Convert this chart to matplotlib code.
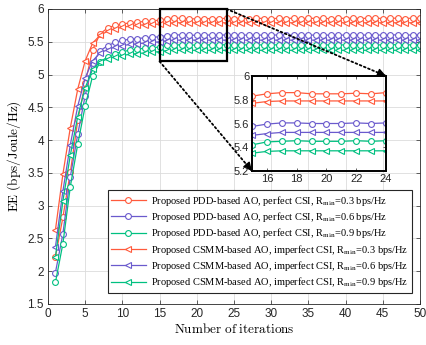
import matplotlib
matplotlib.use("Agg")
import matplotlib.pyplot as plt
from matplotlib.font_manager import FontProperties
from matplotlib.patches import Rectangle, ConnectionPatch
import numpy as np

iters = list(range(1, 51))

pdd_03 = [2.22, 2.82, 3.51, 4.30, 4.87, 5.38, 5.62, 5.71, 5.75, 5.77,
          5.79, 5.80, 5.81, 5.82, 5.83, 5.85, 5.86, 5.86, 5.85, 5.85,
          5.85, 5.855, 5.85, 5.86, 5.855, 5.86, 5.85, 5.86, 5.855, 5.85,
          5.86, 5.855, 5.86, 5.85, 5.86, 5.855, 5.86, 5.85, 5.86, 5.855,
          5.86, 5.855, 5.86, 5.86, 5.855, 5.86, 5.86, 5.855, 5.86, 5.86]
pdd_06 = [1.98, 2.57, 3.44, 4.09, 4.68, 5.17, 5.36, 5.44, 5.49, 5.52,
          5.54, 5.55, 5.56, 5.57, 5.575, 5.595, 5.605, 5.605, 5.60, 5.60,
          5.60, 5.605, 5.60, 5.605, 5.60, 5.605, 5.60, 5.605, 5.60, 5.60,
          5.605, 5.60, 5.605, 5.60, 5.605, 5.60, 5.605, 5.60, 5.605, 5.60,
          5.605, 5.60, 5.605, 5.605, 5.60, 5.605, 5.605, 5.60, 5.605, 5.605]
pdd_09 = [1.83, 2.42, 3.29, 3.94, 4.52, 4.98, 5.19, 5.27, 5.32, 5.35,
          5.37, 5.39, 5.40, 5.41, 5.42, 5.445, 5.45, 5.455, 5.45, 5.45,
          5.45, 5.455, 5.45, 5.455, 5.45, 5.455, 5.45, 5.455, 5.45, 5.45,
          5.455, 5.45, 5.455, 5.45, 5.455, 5.45, 5.455, 5.45, 5.455, 5.45,
          5.455, 5.45, 5.455, 5.455, 5.45, 5.455, 5.455, 5.45, 5.455, 5.455]
csmm_03 = [2.63, 3.48, 4.19, 4.78, 5.21, 5.48, 5.60, 5.66, 5.70, 5.72,
           5.74, 5.75, 5.76, 5.765, 5.77, 5.785, 5.79, 5.79, 5.79, 5.79,
           5.79, 5.79, 5.79, 5.79, 5.79, 5.79, 5.79, 5.79, 5.79, 5.79,
           5.79, 5.79, 5.79, 5.79, 5.79, 5.79, 5.79, 5.79, 5.79, 5.79,
           5.79, 5.79, 5.79, 5.79, 5.79, 5.79, 5.79, 5.79, 5.79, 5.79]
csmm_06 = [2.37, 3.22, 3.93, 4.52, 4.95, 5.21, 5.33, 5.38, 5.42, 5.44,
           5.46, 5.47, 5.48, 5.49, 5.50, 5.515, 5.525, 5.525, 5.525, 5.525,
           5.525, 5.525, 5.525, 5.525, 5.525, 5.525, 5.525, 5.525, 5.525, 5.525,
           5.525, 5.525, 5.525, 5.525, 5.525, 5.525, 5.525, 5.525, 5.525, 5.525,
           5.525, 5.525, 5.525, 5.525, 5.525, 5.525, 5.525, 5.525, 5.525, 5.525]
csmm_09 = [2.22, 3.07, 3.77, 4.36, 4.80, 5.08, 5.19, 5.24, 5.27, 5.29,
           5.31, 5.32, 5.33, 5.34, 5.35, 5.365, 5.37, 5.37, 5.37, 5.37,
           5.37, 5.37, 5.37, 5.37, 5.37, 5.37, 5.37, 5.37, 5.37, 5.37,
           5.37, 5.37, 5.37, 5.37, 5.37, 5.37, 5.37, 5.37, 5.37, 5.37,
           5.37, 5.37, 5.37, 5.37, 5.37, 5.37, 5.37, 5.37, 5.37, 5.37]

labels = [
    r"Proposed PDD-based AO, perfect CSI, R$_{\mathrm{min}}$=0.3 bps/Hz",
    r"Proposed PDD-based AO, perfect CSI, R$_{\mathrm{min}}$=0.6 bps/Hz",
    r"Proposed PDD-based AO, perfect CSI, R$_{\mathrm{min}}$=0.9 bps/Hz",
    r"Proposed CSMM-based AO, imperfect CSI, R$_{\mathrm{min}}$=0.3 bps/Hz",
    r"Proposed CSMM-based AO, imperfect CSI, R$_{\mathrm{min}}$=0.6 bps/Hz",
    r"Proposed CSMM-based AO, imperfect CSI, R$_{\mathrm{min}}$=0.9 bps/Hz",
]
series = [pdd_03, pdd_06, pdd_09, csmm_03, csmm_06, csmm_09]
colors = ["#FF5A3C", "#6A5ACD", "#00C080", "#FF5A3C", "#6A5ACD", "#00C080"]
markers = ["o", "o", "o", "<", "<", "<"]

xticks = [0, 5, 10, 15, 20, 25, 30, 35, 40, 45, 50]
yticks = [1.5, 2, 2.5, 3, 3.5, 4, 4.5, 5, 5.5, 6]
ytick_labels = ["1.5", "2", "2.5", "3", "3.5", "4", "4.5", "5", "5.5", "6"]
in_xticks = [16, 18, 20, 22, 24]
in_yticks = [5.2, 5.4, 5.6, 5.8, 6]
in_ytick_labels = ["5.2", "5.4", "5.6", "5.8", "6"]

plt.rcParams["font.family"] = ["Liberation Sans", "DejaVu Sans"]

fig = plt.figure(figsize=(4.26, 3.45), dpi=100)
ax = fig.add_axes([48/426, 1-304/345, 372/426, 295/345])

for y, c, m, lab in zip(series, colors, markers, labels):
    ax.plot(iters, y, color=c, marker=m, markerfacecolor="white",
            markersize=4.2, markeredgewidth=0.8, lw=0.9, label=lab)

ax.set_xlim(0, 50)
ax.set_ylim(1.5, 6)
ax.set_xticks(xticks)
ax.set_yticks(yticks)
ax.set_yticklabels(ytick_labels)
ax.tick_params(direction="in", top=True, right=True, labelsize=8.5,
               length=3, width=0.5, colors="#262626", pad=3)
ax.grid(True, color="#dcdcdc", lw=0.6)
ax.set_axisbelow(True)
for s in ax.spines.values():
    s.set_linewidth(0.6)
    s.set_color("#262626")

lab_fp = FontProperties(size=9.5, math_fontfamily="cm")
ax.set_xlabel(r"$\mathrm{Number\ of\ iterations}$", fontproperties=lab_fp, labelpad=1)
ax.set_ylabel(r"$\mathrm{EE\ (bps/Joule/Hz)}$", fontproperties=lab_fp, labelpad=3)

leg_fp = FontProperties(family="Liberation Serif", size=7.5, math_fontfamily="stix")
leg = ax.legend(loc="upper right", bbox_to_anchor=(0.978, 0.386), borderaxespad=0,
                prop=leg_fp, handlelength=3.3, fancybox=False, framealpha=1,
                edgecolor="#262626", borderpad=0.35, labelspacing=0.22,
                handletextpad=0.5)
leg.get_frame().set_linewidth(0.8)

# zoom rectangle
rect = Rectangle((15, 5.2), 9, 0.8, fill=False, ec="black", lw=1.6,
                 clip_on=False, zorder=5)
ax.add_patch(rect)

# inset
axins = fig.add_axes([252/426, 1-171/345, 134/426, 95/345])
axins.patch.set_alpha(0)
for y, c, m in zip(series, colors, markers):
    axins.plot(iters[14:24], y[14:24], color=c, marker=m, markerfacecolor="white",
               markersize=4.2, markeredgewidth=0.8, lw=0.9)
axins.set_xlim(15, 24)
axins.set_ylim(5.2, 6)
axins.set_xticks(in_xticks)
axins.set_yticks(in_yticks)
axins.set_yticklabels(in_ytick_labels)
axins.tick_params(direction="in", top=True, right=True, labelsize=8,
                  length=2.5, width=0.5, colors="#262626", pad=2)
for s in axins.spines.values():
    s.set_linewidth(1.4)
    s.set_color("black")

# dotted connectors with arrow heads
for pa, pb in [((24, 6), (1, 1)), ((15, 5.2), (0, 0))]:
    cp = ConnectionPatch(xyA=pa, coordsA=ax.transData, xyB=pb, coordsB=axins.transAxes,
                         linestyle=(0, (1, 1.5)), lw=1.3, color="black", zorder=6)
    fig.add_artist(cp)
    p0 = np.array(ax.transData.transform(pa))
    p1 = np.array(axins.transAxes.transform(pb))
    d = (p1 - p0) / np.linalg.norm(p1 - p0)
    start = p1 - 9 * d
    ax.annotate("", xy=tuple(p1), xycoords="figure pixels",
                xytext=tuple(start), textcoords="figure pixels",
                arrowprops=dict(arrowstyle="-|>,head_length=0.5,head_width=0.25",
                                color="black", lw=1.0, shrinkA=0, shrinkB=0),
                annotation_clip=False, zorder=7)

fig.savefig("out.png", dpi=100)
